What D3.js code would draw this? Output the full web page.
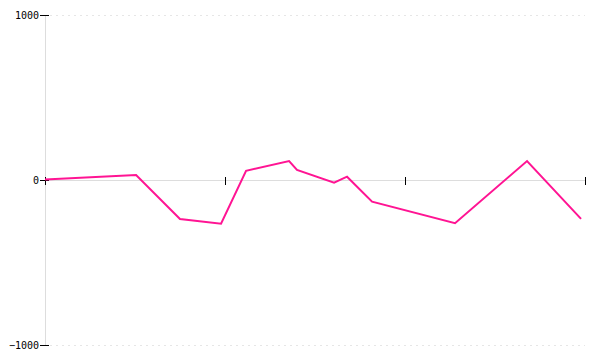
<!DOCTYPE html>
<html><head><meta charset="utf-8">
<script src="https://cdn.jsdelivr.net/npm/d3@7"></script>
<style>body{margin:0;background:#fff}svg{display:block}</style>
</head><body><svg width="600" height="360"></svg>
<script>
const xValues = [0, 0.506, 0.75, 0.978, 1.117, 1.356, 1.4, 1.606, 1.678, 1.817, 2.278, 2.678, 2.978];
const yValues = [3, 30, -236, -265, 56, 115, 61, -16, 20, -131, -262, 115, -236];
const yTicks = [-1000, 0, 1000];
const xTicks = [0, 1, 2, 3];

const svg = d3.select("svg");
const x = d3.scaleLinear().domain([0, 3]).range([45, 585]);
const y = d3.scaleLinear().domain([-1000, 1000]).range([345, 15]);
const font = "'DejaVu Sans Mono', monospace";

// grid at extremes
svg.selectAll(".grid").data([1000, -1000]).enter().append("line")
  .attr("x1", 50).attr("x2", 585)
  .attr("y1", d => y(d) + 0.5).attr("y2", d => y(d) + 0.5)
  .attr("stroke", "#e6e6e6").attr("stroke-dasharray", "2,4");

// y axis line
svg.append("line").attr("x1", x(0) + 0.5).attr("x2", x(0) + 0.5)
  .attr("y1", y(1000)).attr("y2", y(-1000)).attr("stroke", "#ddd");
// zero line
svg.append("line").attr("x1", x(0)).attr("x2", x(3))
  .attr("y1", y(0) + 0.5).attr("y2", y(0) + 0.5).attr("stroke", "#ddd");

// y ticks
const yt = svg.selectAll(".yt").data(yTicks).enter().append("g")
  .attr("transform", d => `translate(${x(0)},${y(d) + 0.5})`);
yt.append("line").attr("x1", -5).attr("x2", 4).attr("stroke", "#000");
yt.append("text").attr("x", -6).attr("dy", "0.35em").attr("text-anchor", "end")
  .attr("font-family", font).attr("font-size", 10).attr("fill", "#000")
  .text(d => d3.format("")(d));

// x ticks
svg.selectAll(".xt").data(xTicks).enter().append("line")
  .attr("x1", d => x(d) + 0.5).attr("x2", d => x(d) + 0.5)
  .attr("y1", y(0) - 3).attr("y2", y(0) + 5).attr("stroke", "#000");

// line
const pts = xValues.map((v, i) => [v, yValues[i]]);
svg.append("path").datum(pts)
  .attr("d", d3.line().x(d => x(d[0])).y(d => y(d[1])))
  .attr("fill", "none").attr("stroke", "#ff1493").attr("stroke-width", 2);
</script></body></html>
